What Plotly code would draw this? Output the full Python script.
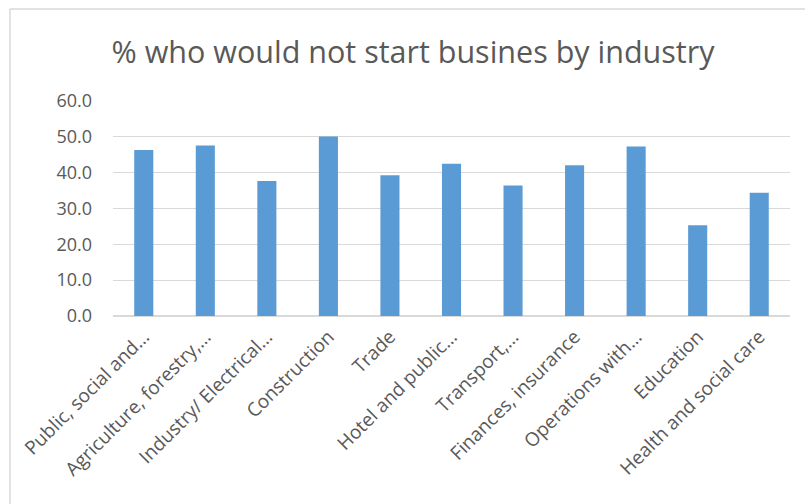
import plotly.graph_objects as go

# Industry categories (labels as shown on the axis, long names shortened)
categories = [
    "Public, social and…",
    "Agriculture, forestry,…",
    "Industry/ Electrical…",
    "Construction",
    "Trade",
    "Hotel and public…",
    "Transport,…",
    "Finances, insurance",
    "Operations with…",
    "Education",
    "Health and social care",
]
# Share of respondents who would not start a business (%)
values = [46.3, 47.6, 37.7, 50.1, 39.3, 42.5, 36.4, 42.1, 47.3, 25.3, 34.4]
y_ticks = [0, 10, 20, 30, 40, 50, 60]

W, H = 805, 504
ML, MR, MT, MB = 113, 15, 101, 188
GREY_TEXT = "#595959"
GRID = "#d9d9d9"
FONT = "Open Sans, Calibri, sans-serif"

fig = go.Figure(
    go.Bar(
        x=categories,
        y=values,
        marker=dict(color="#5b9bd5", line=dict(width=0)),
    )
)

# chart-area border (top and left edges visible in the frame)
pw = W - ML - MR
ph = H - MT - MB
def px_x(x):
    return (x - ML) / pw
def px_y(y):
    return (H - MB - y) / ph

border = dict(color="#d9d9d9", width=1.5)
fig.add_shape(type="line", xref="paper", yref="paper",
              x0=px_x(10), x1=px_x(W + 5), y0=px_y(9), y1=px_y(9), line=border)
fig.add_shape(type="line", xref="paper", yref="paper",
              x0=px_x(10), x1=px_x(10), y0=px_y(9), y1=px_y(H + 5), line=border)

fig.update_layout(
    width=W,
    height=H,
    margin=dict(l=ML, r=MR, t=MT, b=MB),
    paper_bgcolor="white",
    plot_bgcolor="white",
    bargap=0.69,
    showlegend=False,
    title=dict(
        text="% who would not start busines by industry",
        x=413 / W,
        xref="container",
        y=(H - 52) / H,
        yref="container",
        yanchor="middle",
        xanchor="center",
        font=dict(family=FONT, size=30.5, color=GREY_TEXT),
    ),
    font=dict(family=FONT, color=GREY_TEXT),
    xaxis=dict(
        tickangle=-45,
        tickfont=dict(size=19, color=GREY_TEXT),
        showgrid=False,
        showline=False,
        ticks="",
        zeroline=False,
        ticklabelstandoff=5,
    ),
    yaxis=dict(
        range=[0, 60],
        tickvals=y_ticks,
        tickformat=".1f",
        tickfont=dict(size=18, color=GREY_TEXT),
        showgrid=True,
        gridcolor=GRID,
        gridwidth=1.2,
        zeroline=True,
        zerolinecolor=GRID,
        zerolinewidth=1.5,
        showline=False,
        ticks="",
        ticklen=0,
        ticklabelstandoff=20,
    ),
)

fig.write_html("out.html")
